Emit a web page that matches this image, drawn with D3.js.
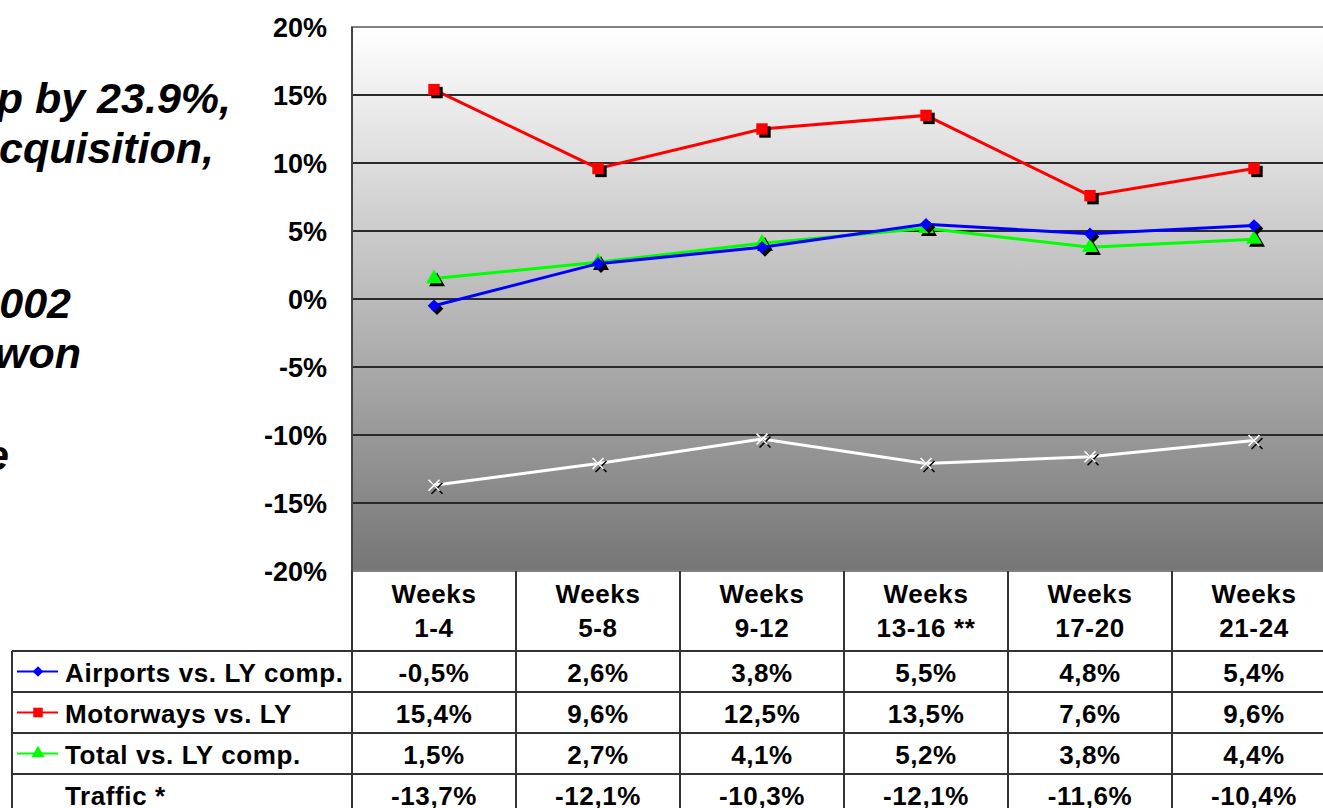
<!DOCTYPE html>
<meta charset="utf-8">
<style>
    body { margin: 0; background: #fff; }
    svg text { font-family: "Liberation Sans", Arial, sans-serif; font-weight: bold; fill: #000; }
    .slide text { font-style: italic; font-size: 43px; }
    .y.axis text { font-size: 27px; }
    .y.axis path { display: none; }
    .grid line { stroke: #2a2a2a; stroke-width: 2; }
    .tbl text { font-size: 26px; letter-spacing: 0.6px; }
    .tbl line { stroke: #333; stroke-width: 2; }
    path.line { fill: none; stroke-width: 3; }
</style>
<body>
<script src="https://cdn.jsdelivr.net/npm/d3@7/dist/d3.min.js"></script>
<script>

    // chart values
    var periods = ["1-4", "5-8", "9-12", "13-16 **", "17-20", "21-24"];
    var airports = [-0.5, 2.6, 3.8, 5.5, 4.8, 5.4];
    var motorways = [15.4, 9.6, 12.5, 13.5, 7.6, 9.6];
    var total = [1.5, 2.7, 4.1, 5.2, 3.8, 4.4];
    var traffic = [-13.7, -12.1, -10.3, -12.1, -11.6, -10.4];
    var yTicks = [20, 15, 10, 5, 0, -5, -10, -15, -20];

    var series = [
        {name: "Airports vs. LY comp.", values: airports, color: "#0000ff", marker: "diamond"},
        {name: "Motorways vs. LY", values: motorways, color: "#ff0000", marker: "square"},
        {name: "Total vs. LY comp.", values: total, color: "#00ff00", marker: "triangle"},
        {name: "Traffic *", values: traffic, color: "#ffffff", marker: "cross"}
    ];

    var W = 1323, H = 808;
    var plotLeft = 352, plotTop = 27, plotBottom = 571, colW = 164;
    var plotRight = plotLeft + colW * periods.length;

    var svg = d3.select("body").append("svg")
            .attr("width", W)
            .attr("height", H);

    var x = d3.scaleBand()
            .domain(periods)
            .range([plotLeft, plotRight]);

    var y = d3.scaleLinear()
            .domain([-20, 20])
            .range([plotBottom, plotTop]);

    // slide text, cut off on the left
    var slide = svg.append("g").attr("class", "slide");
    [["p by 23.9%,", 231, 113], ["acquisition,", 214, 163], ["002", 71, 318],
     ["won", 81, 368], ["e", 9, 470]].forEach(function(t) {
        slide.append("text").attr("x", t[1]).attr("y", t[2])
                .style("text-anchor", "end").text(t[0]);
    });

    // plot background
    var grad = svg.append("defs").append("linearGradient")
            .attr("id", "bg").attr("x1", 0).attr("y1", 0).attr("x2", 0).attr("y2", 1);
    grad.append("stop").attr("offset", "0%").attr("stop-color", "#ffffff");
    grad.append("stop").attr("offset", "100%").attr("stop-color", "#767676");

    svg.append("rect")
            .attr("x", plotLeft).attr("y", plotTop)
            .attr("width", plotRight - plotLeft).attr("height", plotBottom - plotTop)
            .attr("fill", "url(#bg)")
            .attr("stroke", "#808080").attr("stroke-width", 2);

    svg.append("g").attr("class", "grid")
            .selectAll("line")
            .data(yTicks.filter(function(d) { return d > -20 && d < 20; }))
            .enter().append("line")
            .attr("x1", plotLeft).attr("x2", plotRight)
            .attr("y1", function(d) { return y(d); })
            .attr("y2", function(d) { return y(d); });

    svg.append("line")
            .attr("x1", plotLeft).attr("x2", plotLeft)
            .attr("y1", plotTop).attr("y2", plotBottom)
            .attr("stroke", "#444").attr("stroke-width", 2);

    var yAxis = d3.axisLeft(y)
            .tickValues(yTicks)
            .tickSize(0)
            .tickPadding(25)
            .tickFormat(function(d) { return d + "%"; });

    svg.append("g")
            .attr("class", "y axis")
            .attr("transform", "translate(" + plotLeft + ",0)")
            .call(yAxis)
            .selectAll("text").attr("dy", "0.36em");

    // lines and markers
    var cx = function(i) { return x(periods[i]) + x.bandwidth() / 2; };
    var line = d3.line()
            .x(function(d, i) { return cx(i); })
            .y(function(d) { return y(d); });

    // diamond = square turned 45 degrees
    var symbolType = {
        diamond: d3.symbolSquare, square: d3.symbolSquare,
        triangle: d3.symbolTriangle, cross: d3.symbolX
    };
    var symbolSize = {diamond: 80, square: 130, triangle: 110, cross: 80};

    function drawMarker(g, s, px, py, shadow, scale) {
        var k = scale || 1;
        var sym = d3.symbol().type(symbolType[s.marker]).size(symbolSize[s.marker] * k);
        var isCross = s.marker === "cross";
        var rot = s.marker === "diamond" ? " rotate(45)" : "";
        if (shadow) {
            g.append("path").attr("d", sym)
                    .attr("transform", "translate(" + (px + 3) + "," + (py + 3) + ")" + rot)
                    .attr("fill", "#000").attr("stroke", isCross ? "#000" : "none")
                    .attr("stroke-width", 1.5);
        }
        g.append("path").attr("d", sym)
                .attr("transform", "translate(" + px + "," + py + ")" + rot)
                .attr("fill", s.color)
                .attr("stroke", isCross ? s.color : "none")
                .attr("stroke-width", 1.5);
    }

    series.slice().reverse().forEach(function(s) {
        var g = svg.append("g");
        g.append("path").datum(s.values)
                .attr("class", "line")
                .attr("stroke", s.color)
                .attr("d", line);
        s.values.forEach(function(v, i) { drawMarker(g, s, cx(i), y(v), true); });
    });

    // data table
    var tbl = svg.append("g").attr("class", "tbl");
    var headBottom = 651, rowH = 41, tblLeft = 12;
    var fmt = function(v) { return v.toFixed(1).replace(".", ",") + "%"; };

    tbl.append("line").attr("x1", tblLeft).attr("x2", plotRight).attr("y1", headBottom).attr("y2", headBottom);
    series.forEach(function(s, r) {
        var yb = headBottom + rowH * (r + 1);
        tbl.append("line").attr("x1", tblLeft).attr("x2", plotRight).attr("y1", yb).attr("y2", yb);
    });
    tbl.append("line").attr("x1", tblLeft).attr("x2", tblLeft).attr("y1", headBottom).attr("y2", H);
    d3.range(periods.length + 1).forEach(function(i) {
        var xx = plotLeft + colW * i;
        tbl.append("line").attr("x1", xx).attr("x2", xx).attr("y1", plotBottom).attr("y2", H);
    });

    periods.forEach(function(p, i) {
        var t = tbl.append("text").attr("x", cx(i)).attr("y", 603).style("text-anchor", "middle");
        t.append("tspan").attr("x", cx(i)).text("Weeks");
        t.append("tspan").attr("x", cx(i)).attr("dy", 34).text(p);
    });

    series.forEach(function(s, r) {
        var base = headBottom + rowH * r + 31;
        var mid = headBottom + rowH * r + rowH / 2;
        var key = tbl.append("g");
        key.append("line").attr("x1", 17).attr("x2", 58).attr("y1", mid).attr("y2", mid)
                .style("stroke", s.color).style("stroke-width", 2);
        drawMarker(key, s, 38, mid, false, 0.7);
        tbl.append("text").attr("x", 65).attr("y", base).text(s.name);
        s.values.forEach(function(v, i) {
            tbl.append("text").attr("x", cx(i)).attr("y", base)
                    .style("text-anchor", "middle")
                    .text(fmt(v));
        });
    });

</script>
